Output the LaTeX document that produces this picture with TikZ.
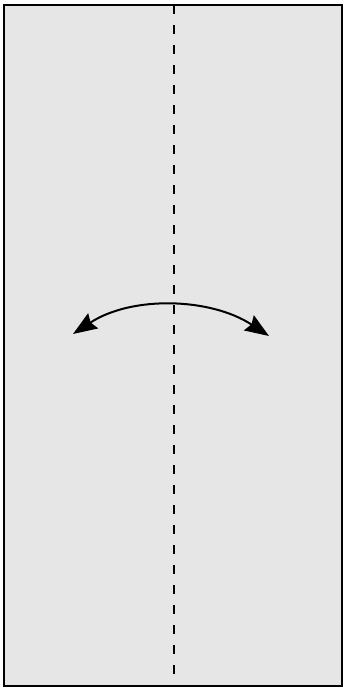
\documentclass[tikz,border=0pt]{standalone}
\usetikzlibrary{arrows.meta}
\definecolor{paper}{HTML}{E6E6E6}
\tikzset{
  sheet/.style={draw=black, fill=paper, line width=2pt},
  foldline/.style={draw=black, line width=2pt, dash pattern=on 9pt off 11pt},
  turnarrow/.style={draw=black, line width=2pt, {Stealth[length=24pt,width=18pt,inset=3pt]}-{Stealth[length=24pt,width=18pt,inset=3pt]}}
}
\begin{document}
\begin{tikzpicture}[x=1pt,y=-1pt]
\useasboundingbox (0,0) rectangle (344,688);
\path[sheet] (4,5) rectangle (342,686);
\coordinate (ftop) at (174,5);
\coordinate (fbot) at (174,686);
\path[foldline] (ftop) -- (fbot);
\coordinate (aL) at (73,334);
\coordinate (aR) at (269,336);
\path[turnarrow] (aL) .. controls (131.7,295.5) and (210.3,297.5) .. (aR);
\end{tikzpicture}
\end{document}
